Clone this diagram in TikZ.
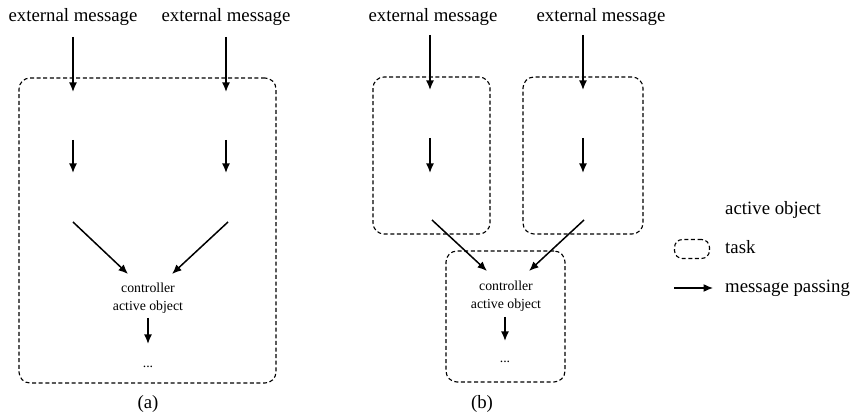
\documentclass[tikz,border=0pt]{standalone}
\usepackage{fontspec}
\setmainfont{Liberation Serif}
\usetikzlibrary{arrows.meta}
\begin{document}
\begin{tikzpicture}[x=1pt,y=-1pt,
  msg/.style={-{Latex[length=9.5pt,width=8pt]}, line width=1.5pt},
  taskbox/.style={draw, dash pattern=on 4pt off 2.6pt, line width=1.1pt, rounded corners=11pt, inner sep=0pt},
  lbl/.style={font=\fontsize{18.8}{22}\selectfont, inner sep=0pt},
  small/.style={font=\fontsize{13.8}{18}\selectfont, inner sep=0pt, align=center}]
\useasboundingbox (0,0) rectangle (855,419);

% ---------- (a): all active objects in one task ----------
\node[taskbox, minimum width=257pt, minimum height=305pt] (taskA) at (147.5,230.5) {};
\node[lbl] (extA1) at (73,17) {external message};
\node[lbl] (extA2) at (226,17) {external message};
\coordinate (a1top) at (73,37);  \coordinate (a1in) at (73,92);
\coordinate (a2top) at (226,37); \coordinate (a2in) at (226,92);
\coordinate (a1out) at (73,140); \coordinate (a1nx) at (73,173);
\coordinate (a2out) at (226,140);\coordinate (a2nx) at (226,173);
\coordinate (a1d) at (73,222);   \coordinate (a2d) at (228,222);
\node[small] (ctrlA) at (148,298) {controller\\active object};
\coordinate (ca1) at (128,274);  \coordinate (ca2) at (172,274);
\coordinate (caout) at (148,318); \coordinate (canx) at (148,344);
\node[small] (dotsA) at (148,367) {...};
\draw[msg] (a1top) -- (a1in);
\draw[msg] (a2top) -- (a2in);
\draw[msg] (a1out) -- (a1nx);
\draw[msg] (a2out) -- (a2nx);
\draw[msg] (a1d) -- (ca1);
\draw[msg] (a2d) -- (ca2);
\draw[msg] (caout) -- (canx);
\node[lbl] (capA) at (148,404) {(a)};

% ---------- (b): one task per active object ----------
\node[taskbox, minimum width=117pt, minimum height=157pt] (taskB1) at (431.5,155.5) {};
\node[taskbox, minimum width=120pt, minimum height=157pt] (taskB2) at (583,155.5) {};
\node[taskbox, minimum width=119pt, minimum height=131pt] (taskB3) at (505.5,316.5) {};
\node[lbl] (extB1) at (433,17) {external message};
\node[lbl] (extB2) at (601,17) {external message};
\coordinate (b1top) at (430,35);  \coordinate (b1in) at (430,90);
\coordinate (b2top) at (583,35);  \coordinate (b2in) at (583,90);
\coordinate (b1out) at (430,138); \coordinate (b1nx) at (430,173);
\coordinate (b2out) at (583,138); \coordinate (b2nx) at (583,173);
\coordinate (b1d) at (432,220);   \coordinate (b2d) at (584,220);
\node[small] (ctrlB) at (506,296) {controller\\active object};
\coordinate (cb1) at (487,271);   \coordinate (cb2) at (529,271);
\coordinate (cbout) at (505,317); \coordinate (cbnx) at (505,341);
\node[small] (dotsB) at (505,362) {...};
\draw[msg] (b1top) -- (b1in);
\draw[msg] (b2top) -- (b2in);
\draw[msg] (b1out) -- (b1nx);
\draw[msg] (b2out) -- (b2nx);
\draw[msg] (b1d) -- (cb1);
\draw[msg] (b2d) -- (cb2);
\draw[msg] (cbout) -- (cbnx);
\node[lbl] (capB) at (482,404) {(b)};

% ---------- legend ----------
\node[lbl, anchor=west] (legAO) at (725,210) {active object};
\node[taskbox, rounded corners=8pt, minimum width=35pt, minimum height=19pt] (legTaskBox) at (692,249) {};
\node[lbl, anchor=west] (legTask) at (725,247) {task};
\coordinate (legFrom) at (674,288); \coordinate (legTo) at (713,288);
\draw[msg, line width=1.2pt] (legFrom) -- (legTo);
\node[lbl, anchor=west] (legMsg) at (725,288) {message passing};
\end{tikzpicture}
\end{document}
